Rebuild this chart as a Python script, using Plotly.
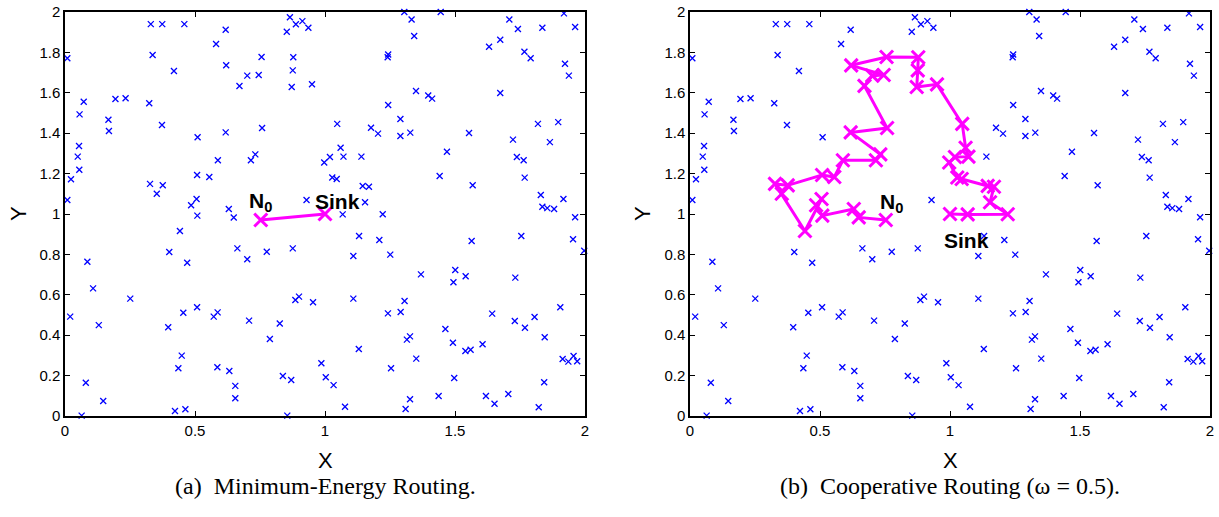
import plotly.graph_objects as go
from plotly.subplots import make_subplots

# Sensor node positions (deployment field 2 x 2)
node_x = [
    0.009, 0.330, 0.374, 0.459, 0.337, 0.419, 0.072, 0.056, 0.194, 0.233,
    0.324, 0.167, 0.169, 0.373, 0.054, 0.049, 0.055, 0.023, 0.009, 0.327,
    0.353, 0.376, 0.485, 0.865, 0.888, 0.913, 0.936, 0.853, 0.618, 0.581,
    0.620, 0.756, 0.878, 0.701, 0.745, 0.876, 0.671, 0.872, 0.950, 0.510,
    0.618, 0.758, 0.588, 0.732, 0.715, 0.997, 0.508, 0.555, 0.506, 0.630,
    0.929, 1.305, 1.445, 1.333, 1.343, 1.243, 1.241, 1.350, 1.397, 1.412,
    1.243, 1.047, 1.290, 1.177, 1.204, 1.290, 1.328, 1.060, 1.019, 1.071,
    1.140, 1.469, 1.028, 1.045, 1.441, 1.145, 1.169, 1.154, 1.068, 1.222,
    1.709, 1.919, 1.742, 1.836, 1.962, 1.674, 1.631, 1.767, 1.791, 1.923,
    1.938, 1.674, 1.554, 1.819, 1.897, 1.723, 1.865, 1.738, 1.764, 1.768,
    1.568, 1.830, 1.917, 1.836, 1.855, 1.881, 0.442, 0.401, 0.086, 0.470,
    0.108, 0.251, 0.020, 0.455, 0.130, 0.397, 0.449, 0.436, 0.080, 0.147,
    0.064, 0.423, 0.463, 0.509, 0.649, 0.663, 0.701, 0.776, 0.876, 0.508,
    0.587, 0.572, 0.708, 0.826, 0.886, 0.900, 0.954, 0.788, 0.586, 0.632,
    0.655, 0.655, 0.838, 0.870, 0.986, 0.855, 1.131, 1.209, 1.109, 1.251,
    1.369, 1.109, 1.306, 1.242, 1.291, 1.463, 1.327, 1.315, 1.130, 1.351,
    1.254, 1.003, 1.033, 1.437, 1.327, 1.310, 1.077, 1.962, 1.564, 1.755,
    1.954, 1.997, 1.501, 1.494, 1.541, 1.732, 1.643, 1.730, 1.769, 1.806,
    1.905, 1.845, 1.492, 1.540, 1.560, 1.606, 1.914, 1.936, 1.956, 1.970,
    1.497, 1.843, 1.619, 1.652, 1.705, 1.822,
]
node_y = [
    1.771, 1.940, 1.940, 1.940, 1.787, 1.708, 1.556, 1.493, 1.569, 1.573,
    1.548, 1.467, 1.411, 1.441, 1.337, 1.284, 1.219, 1.172, 1.069, 1.149,
    1.100, 1.142, 1.043, 1.974, 1.939, 1.955, 1.922, 1.902, 1.912, 1.842,
    1.736, 1.777, 1.776, 1.685, 1.688, 1.711, 1.634, 1.629, 1.642, 1.380,
    1.404, 1.426, 1.266, 1.295, 1.266, 1.255, 1.193, 1.183, 1.074, 1.025,
    1.069, 2.000, 2.000, 1.963, 1.881, 1.790, 1.776, 1.609, 1.587, 1.571,
    1.540, 1.446, 1.470, 1.427, 1.398, 1.386, 1.403, 1.328, 1.282, 1.284,
    1.284, 1.308, 1.181, 1.173, 1.188, 1.139, 1.135, 1.058, 0.998, 0.999,
    1.963, 1.993, 1.916, 1.922, 1.926, 1.863, 1.828, 1.803, 1.771, 1.744,
    1.685, 1.599, 1.401, 1.446, 1.455, 1.368, 1.356, 1.282, 1.266, 1.180,
    1.142, 1.094, 1.074, 1.036, 1.029, 1.025, 0.916, 0.812, 0.764, 0.759,
    0.632, 0.581, 0.492, 0.511, 0.450, 0.439, 0.299, 0.236, 0.165, 0.074,
    0.002, 0.025, 0.033, 0.992, 0.983, 0.830, 0.776, 0.813, 0.830, 0.538,
    0.513, 0.492, 0.472, 0.458, 0.574, 0.591, 0.563, 0.381, 0.241, 0.223,
    0.149, 0.088, 0.198, 0.178, 0.261, 0.002, 0.891, 0.871, 0.792, 0.799,
    0.701, 0.581, 0.569, 0.508, 0.515, 0.431, 0.394, 0.378, 0.332, 0.284,
    0.236, 0.192, 0.153, 0.099, 0.083, 0.035, 0.046, 0.984, 0.866, 0.891,
    0.875, 0.818, 0.723, 0.662, 0.692, 0.685, 0.507, 0.470, 0.437, 0.490,
    0.538, 0.390, 0.363, 0.322, 0.328, 0.355, 0.282, 0.269, 0.297, 0.271,
    0.188, 0.167, 0.099, 0.061, 0.109, 0.043,
]

# (a) minimum-energy route: direct hop from N0 to the sink
min_energy_x = [0.753, 1.000]
min_energy_y = [0.970, 1.000]

# (b) cooperative route (omega = 0.5), N0 -> ... -> sink
coop_x = [0.753, 0.649, 0.630, 0.509, 0.485, 0.506, 0.442, 0.353, 0.327, 0.376,
          0.508, 0.555, 0.588, 0.715, 0.732, 0.618, 0.758, 0.671, 0.701, 0.745,
          0.620, 0.756, 0.878, 0.876, 0.872, 0.950, 1.047, 1.060, 1.071, 1.019,
          0.997, 1.028, 1.045, 1.145, 1.169, 1.154, 1.222, 1.068, 1.000]
coop_y = [0.970, 0.983, 1.025, 0.992, 1.043, 1.074, 0.916, 1.100, 1.149, 1.142,
          1.193, 1.183, 1.266, 1.266, 1.295, 1.404, 1.426, 1.634, 1.685, 1.688,
          1.736, 1.777, 1.776, 1.711, 1.629, 1.642, 1.446, 1.328, 1.284, 1.282,
          1.255, 1.181, 1.173, 1.139, 1.135, 1.058, 0.999, 0.998, 1.000]

captions = ["(a)&nbsp; Minimum-Energy Routing.", "(b)&nbsp; Cooperative Routing (\u03c9 = 0.5)."]

MAGENTA = "#ff00ff"
BLUE = "#0000ff"
W, H = 1219, 517

fig = make_subplots(rows=1, cols=2, horizontal_spacing=0.05)

routes = [(min_energy_x, min_energy_y), (coop_x, coop_y)]
for col, (rx, ry) in enumerate(routes, start=1):
    fig.add_trace(go.Scatter(
        x=node_x, y=node_y, mode="markers",
        marker=dict(symbol="x-thin", size=6, color=BLUE,
                    line=dict(color=BLUE, width=1.3)),
        cliponaxis=False, showlegend=False, hoverinfo="skip",
    ), row=1, col=col)
    fig.add_trace(go.Scatter(
        x=rx, y=ry, mode="lines+markers",
        line=dict(color=MAGENTA, width=3),
        marker=dict(symbol="x-thin", size=13, color=MAGENTA,
                    line=dict(color=MAGENTA, width=3)),
        cliponaxis=False, showlegend=False, hoverinfo="skip",
    ), row=1, col=col)

# plot areas in pixels: left 65..585, right 690..1210, vertical 12..416
dom_left = [65 / W, 585 / W]
dom_right = [690 / W, 1210 / W]
dom_y = [1 - 416 / H, 1 - 12 / H]

axis_common = dict(
    range=[0, 2], showgrid=False, zeroline=False, automargin=False,
    showline=True, linecolor="black", linewidth=1.5, mirror="ticks",
    ticks="inside", ticklen=5, tickwidth=1, tickcolor="black",
    tickfont=dict(family="Liberation Sans, Arial", size=15, color="black"),
)

for i, dom in enumerate([dom_left, dom_right], start=1):
    xa = "xaxis" if i == 1 else f"xaxis{i}"
    ya = "yaxis" if i == 1 else f"yaxis{i}"
    fig.update_layout(**{
        xa: dict(axis_common, domain=dom, tickvals=[0, 0.5, 1, 1.5, 2]),
        ya: dict(axis_common, domain=dom_y, dtick=0.2, tick0=0),
    })

label_font = dict(family="Liberation Sans, Arial", size=21, color="black")
title_font = dict(family="Liberation Sans, Arial", size=22, color="black")
cap_font = dict(family="Liberation Serif, Times New Roman", size=24, color="black")

annotations = [
    dict(x=0.700, y=1.058, xref="x", yref="y", text="<b>N<sub>0</sub></b>",
         showarrow=False, font=label_font, xanchor="left", yanchor="middle"),
    dict(x=0.954, y=1.064, xref="x", yref="y", text="<b>Sink</b>",
         showarrow=False, font=label_font, xanchor="left", yanchor="middle"),
    dict(x=0.723, y=1.055, xref="x2", yref="y2", text="<b>N<sub>0</sub></b>",
         showarrow=False, font=label_font, xanchor="left", yanchor="middle"),
    dict(x=0.969, y=0.869, xref="x2", yref="y2", text="<b>Sink</b>",
         showarrow=False, font=label_font, xanchor="left", yanchor="middle"),
]

for dom, cap, yx in zip([dom_left, dom_right], captions, [18, 642]):
    cx = (dom[0] + dom[1]) / 2
    # axis titles
    annotations.append(dict(x=cx, y=1 - 460 / H, xref="paper", yref="paper",
                            text="X", showarrow=False, font=title_font,
                            xanchor="center", yanchor="middle"))
    annotations.append(dict(x=yx / W, y=1 - 214 / H, xref="paper", yref="paper",
                            text="Y", textangle=-90, showarrow=False, font=title_font,
                            xanchor="center", yanchor="middle"))
    # subfigure caption
    annotations.append(dict(x=cx, y=1 - 486 / H, xref="paper", yref="paper",
                            text=cap, showarrow=False, font=cap_font,
                            xanchor="center", yanchor="middle"))

fig.update_layout(
    width=W, height=H,
    margin=dict(l=0, r=0, t=0, b=0),
    paper_bgcolor="white", plot_bgcolor="white",
    annotations=annotations,
)

fig.write_html("out.html")
